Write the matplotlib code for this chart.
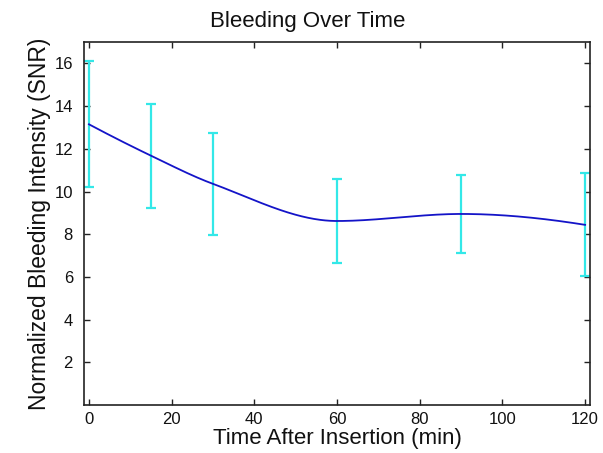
import numpy as np
import matplotlib
matplotlib.use("Agg")
import matplotlib.pyplot as plt

plt.rcParams['font.family'] = ['Liberation Sans', 'DejaVu Sans']

time_min = [0, 15, 30, 60, 90, 120]
mean_snr = [13.15, 11.68, 10.36, 8.62, 8.95, 8.44]
err_snr = [2.95, 2.43, 2.38, 1.97, 1.84, 2.42]
x_ticks = [0, 20, 40, 60, 80, 100, 120]
y_ticks = [2, 4, 6, 8, 10, 12, 14, 16]


def pchip(x, y, xs):
    x = np.asarray(x, float); y = np.asarray(y, float)
    n = len(x)
    h = np.diff(x)
    dl = np.diff(y) / h
    d = np.zeros(n)
    for k in range(1, n - 1):
        if dl[k - 1] * dl[k] > 0:
            w1 = 2 * h[k] + h[k - 1]
            w2 = h[k] + 2 * h[k - 1]
            d[k] = (w1 + w2) / (w1 / dl[k - 1] + w2 / dl[k])

    def end(h0, h1, d0, d1):
        s = ((2 * h0 + h1) * d0 - h0 * d1) / (h0 + h1)
        if np.sign(s) != np.sign(d0):
            s = 0.0
        elif np.sign(d0) != np.sign(d1) and abs(s) > abs(3 * d0):
            s = 3 * d0
        return s

    d[0] = end(h[0], h[1], dl[0], dl[1])
    d[-1] = end(h[-1], h[-2], dl[-1], dl[-2])
    out = np.empty_like(xs)
    for j, t in enumerate(xs):
        i = min(max(np.searchsorted(x, t) - 1, 0), n - 2)
        s = (t - x[i]) / h[i]
        h00 = 2 * s**3 - 3 * s**2 + 1
        h10 = s**3 - 2 * s**2 + s
        h01 = -2 * s**3 + 3 * s**2
        h11 = s**3 - s**2
        out[j] = h00 * y[i] + h10 * h[i] * d[i] + h01 * y[i + 1] + h11 * h[i] * d[i + 1]
    return out


fig = plt.figure(figsize=(6.03, 4.53), dpi=100)
ax = fig.add_axes([0.1393, 0.106, 0.8392, 0.801])

xs = np.linspace(time_min[0], time_min[-1], 400)
ax.plot(xs, pchip(time_min, mean_snr, xs), color='#1414c8', lw=1.3, zorder=3)
ax.errorbar(time_min, mean_snr, yerr=err_snr, fmt='none', ecolor='#33e8e8',
            elinewidth=1.6, capsize=3.6, capthick=1.6, zorder=2)

ax.set_xlim(-1.2, 121.2)
ax.set_ylim(0, 17)
ax.set_xticks(x_ticks)
ax.set_yticks(y_ticks)
ax.tick_params(direction='in', top=True, right=True, length=4, width=1,
               labelsize=12, colors='#222222', labelcolor='#111111')
ax.tick_params(axis='y', pad=8)
ax.tick_params(axis='x', pad=5)
for s in ax.spines.values():
    s.set_linewidth(1.2)
    s.set_color('#222222')

ax.set_title('Bleeding Over Time', fontsize=16, color='#111111', x=0.442, y=1.0, pad=11)
ax.set_xlabel('Time After Insertion (min)', fontsize=16, labelpad=1, color='#111111')
ax.set_ylabel('Normalized Bleeding Intensity (SNR)', fontsize=16.5, labelpad=2, color='#111111')

fig.savefig('out.png', dpi=100)
